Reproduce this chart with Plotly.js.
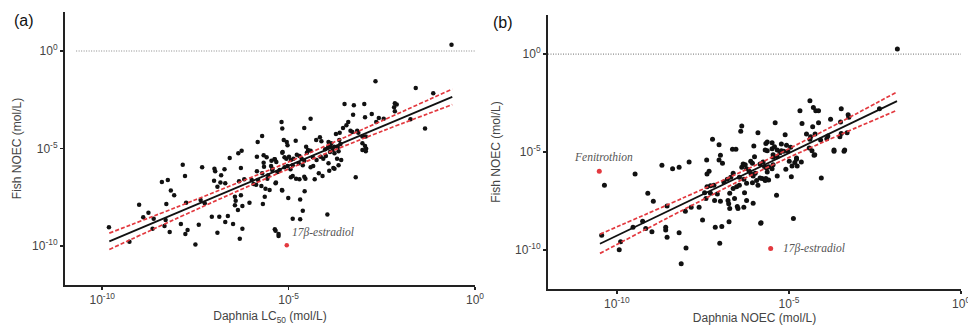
<!DOCTYPE html>
<html><head><meta charset="utf-8">
<script src="https://cdn.plot.ly/plotly-3.0.1.min.js"></script>
<style>body{margin:0;background:#fff}#c{width:968px;height:325px}</style>
</head><body><div id="c"></div>
<script>
// Values are log10 (mol/L)
const aLogX=[-9.82,-9.27,-9.01,-8.90,-8.76,-8.62,-8.65,-8.40,-8.24,-8.16,
-8.07,-8.28,-8.30,-8.33,-8.19,-7.84,-7.78,-7.75,-7.89,-7.71,
-7.77,-7.50,-7.32,-7.36,-7.25,-7.41,-6.99,-6.97,-7.00,-6.91,
-6.81,-6.83,-6.70,-6.72,-7.06,-6.86,-6.70,-6.58,-6.63,-6.91,
-6.49,-6.44,-6.42,-6.44,-6.36,-6.28,-6.24,-6.28,-6.26,-6.35,
-6.33,-6.19,-6.24,-6.31,-6.05,-5.99,-5.94,-5.83,-5.71,-5.85,
-5.67,-5.59,-5.67,-5.66,-5.85,-5.71,-5.82,-5.87,-5.73,-5.62,
-5.51,-5.64,-5.69,-5.46,-5.37,-5.44,-5.30,-5.34,-5.16,-5.18,
-5.37,-5.27,-5.55,-5.57,-2.67,-1.59,-1.12,-3.50,-3.25,-2.97,
-2.15,-2.10,-2.17,-2.15,-3.27,-2.77,-2.95,-4.41,-2.58,-2.45,
-2.65,-1.73,-3.40,-3.45,-3.54,-3.63,-3.73,-5.19,-5.17,-4.58,
-3.34,-3.29,-3.16,-3.13,-1.34,-3.02,-2.93,-3.02,-2.95,-2.92,
-3.02,-2.93,-5.13,-5.05,-5.03,-4.81,-4.26,-4.16,-4.12,-3.93,
-3.86,-3.89,-3.78,-3.64,-3.61,-3.68,-3.66,-4.53,-4.48,-4.51,
-4.41,-4.02,-3.94,-3.89,-3.82,-3.77,-5.17,-5.11,-5.06,-4.99,
-4.94,-4.87,-5.38,-5.33,-4.78,-4.71,-4.65,-4.58,-4.73,-4.62,
-4.35,-4.25,-4.14,-4.07,-4.00,-3.93,-3.80,-3.70,-3.59,-3.66,
-4.41,-4.34,-5.24,-5.11,-5.03,-4.95,-4.89,-4.94,-4.89,-4.80,
-4.71,-4.58,-4.55,-4.30,-4.19,-4.09,-3.91,-3.77,-3.20,-5.47,
-5.43,-5.35,-5.17,-5.01,-4.69,-4.57,-4.62,-3.96,-4.89,-4.69,
-5.35,-5.27,-0.63];
const aLogY=[-9.04,-9.78,-7.88,-8.53,-8.29,-8.60,-9.11,-6.72,-6.62,-7.16,
-7.40,-7.85,-8.67,-8.97,-9.28,-5.83,-6.41,-7.78,-8.87,-9.18,
-9.38,-9.93,-5.96,-7.64,-7.81,-8.91,-6.04,-6.17,-6.65,-6.96,
-6.37,-6.75,-6.78,-6.07,-8.50,-8.50,-8.77,-5.49,-8.46,-9.32,
-8.87,-7.47,-7.68,-7.91,-8.15,-7.40,-7.95,-6.00,-5.11,-5.25,
-6.68,-6.58,-9.11,-9.63,-7.78,-6.62,-6.82,-4.67,-4.36,-5.42,
-5.35,-5.45,-5.73,-5.93,-6.17,-6.27,-6.62,-6.86,-6.92,-7.06,
-7.13,-7.47,-7.85,-5.63,-5.55,-6.10,-6.21,-6.75,-5.18,-7.13,
-9.14,-9.49,-6.37,-6.55,-1.55,-1.90,-2.17,-2.72,-2.78,-2.72,
-2.68,-2.75,-2.89,-3.09,-3.27,-3.23,-3.40,-3.47,-3.44,-3.47,
-3.64,-3.50,-3.64,-3.81,-3.95,-4.19,-4.26,-3.64,-3.98,-3.95,
-4.09,-4.15,-4.09,-4.19,-3.98,-4.39,-4.39,-4.73,-4.87,-5.01,
-5.08,-5.14,-4.56,-4.67,-4.84,-4.60,-4.56,-4.43,-4.63,-4.67,
-4.73,-4.87,-4.91,-4.56,-4.77,-4.94,-5.14,-4.91,-5.08,-5.22,
-5.11,-5.04,-4.94,-5.18,-5.08,-5.25,-5.22,-5.45,-5.52,-5.42,
-5.59,-5.52,-5.55,-5.69,-5.32,-5.38,-5.52,-5.63,-5.76,-5.86,
-5.45,-5.59,-5.42,-5.52,-5.38,-5.76,-6.00,-5.52,-5.59,-5.86,
-5.96,-5.90,-6.10,-5.96,-5.90,-6.07,-5.86,-6.48,-6.41,-6.55,
-6.58,-6.45,-6.55,-6.58,-6.27,-6.41,-6.14,-6.04,-6.48,-5.90,
-6.04,-6.78,-7.16,-7.54,-7.61,-7.19,-8.19,-8.39,-8.60,-8.63,
-9.22,-9.38,0.32];
const aRedX=[-5.05], aRedY=[-9.96];
const aFitX=[-9.81,-0.61], aFitY=[-9.76,-2.35];
const aCIX=[-9.81,-7.5,-5.2,-3.0,-0.61];
const aCIUp=[-9.34,-7.63,-5.85,-4.01,-1.95];
const aCILo=[-10.18,-8.15,-6.21,-4.49,-2.75];
const aRefX=[-10.7,0], aRefY=[0,0];

const bLogX=[-10.36,-10.44,-9.93,-9.89,-9.47,-9.53,-9.25,-9.16,-9.10,-8.94,
-8.98,-8.69,-8.54,-8.58,-8.58,-8.54,-8.38,-8.19,-8.19,-8.01,
-7.99,-8.13,-7.90,-7.84,-7.61,-7.51,-7.41,-7.39,-7.38,-7.32,
-7.38,-7.28,-7.18,-7.45,-7.28,-7.22,-7.03,-7.03,-6.93,-6.99,
-7.16,-7.08,-6.99,-6.77,-7.14,-6.95,-7.01,-6.89,-6.79,-6.69,
-6.72,-6.75,-6.72,-6.74,-6.64,-6.54,-6.62,-6.62,-6.52,-6.44,
-6.58,-6.50,-6.48,-6.40,-6.37,-6.37,-6.33,-6.27,-6.23,-6.44,
-6.31,-6.23,-6.29,-6.31,-6.23,-6.04,-6.15,-6.10,-6.04,-5.98,
-6.11,-6.06,-6.00,-6.02,-5.90,-6.06,-5.94,-5.90,-5.82,-5.84,
-5.75,-5.71,-5.65,-5.59,-5.78,-5.67,-5.59,-5.67,-5.63,-4.39,
-4.29,-4.22,-4.14,-4.68,-3.48,-3.79,-3.28,-3.26,-5.40,-4.62,
-4.14,-4.31,-3.50,-2.37,-5.11,-4.49,-4.37,-4.39,-4.24,-4.08,
-3.87,-3.90,-3.52,-3.48,-3.31,-3.69,-3.38,-5.63,-5.49,-5.69,
-5.49,-5.42,-5.34,-5.22,-5.07,-4.95,-4.41,-4.33,-4.27,-5.46,
-5.34,-5.26,-5.03,-4.78,-4.06,-5.36,-5.81,-4.87,-5.34,-4.93,
-5.84,-5.69,-5.63,-5.49,-5.46,-5.09,-4.91,-4.83,-4.76,-4.64,
-4.78,-4.99,-4.25,-3.69,-3.40,-5.46,-5.22,-5.15,-1.85];
const bLogY=[-6.70,-9.25,-10.00,-9.59,-6.12,-8.84,-8.54,-8.91,-7.11,-7.52,
-9.08,-5.68,-7.76,-8.84,-8.98,-9.35,-5.85,-5.78,-9.12,-8.03,
-9.90,-10.71,-5.51,-7.82,-7.82,-8.47,-7.38,-5.41,-6.12,-5.98,
-6.77,-6.73,-6.70,-7.08,-7.11,-4.35,-4.63,-5.41,-5.58,-5.17,
-7.48,-7.14,-7.52,-7.48,-8.84,-8.81,-9.66,-6.53,-6.39,-6.29,
-7.11,-7.65,-7.89,-8.57,-4.86,-4.86,-6.09,-6.87,-6.77,-6.70,
-7.38,-7.79,-7.89,-3.94,-3.67,-5.78,-5.61,-5.65,-5.85,-6.29,
-6.39,-6.60,-7.08,-7.82,-7.48,-7.62,-5.98,-6.12,-6.22,-6.09,
-5.47,-5.58,-5.24,-4.69,-4.02,-6.57,-6.46,-6.70,-8.64,-5.61,
-5.51,-5.75,-5.82,-5.75,-6.36,-6.36,-6.43,-4.56,-4.93,-2.38,
-2.72,-2.89,-2.89,-2.89,-2.79,-3.33,-3.10,-3.23,-3.51,-3.54,
-3.51,-3.71,-3.47,-2.79,-4.12,-4.08,-4.22,-4.35,-4.08,-4.39,
-4.18,-4.32,-4.22,-4.05,-4.02,-4.90,-4.90,-4.49,-4.53,-4.90,
-4.83,-4.73,-4.90,-4.59,-4.66,-4.76,-4.80,-4.93,-5.17,-5.14,
-5.24,-5.04,-4.96,-5.31,-6.33,-7.21,-8.61,-8.40,-6.22,-6.26,
-6.33,-6.46,-6.02,-5.85,-5.65,-5.88,-5.71,-5.54,-5.71,-5.51,
-5.37,-5.47,-5.14,-4.96,-4.96,-5.27,-4.93,-4.96,0.27];
const bRedX=[-10.51,-5.53], bRedY=[-5.98,-9.93];
const bFitX=[-10.49,-1.86], bFitY=[-9.69,-2.40];
const bCIX=[-10.49,-8.0,-6.0,-4.0,-1.86];
const bCIUp=[-9.20,-7.29,-5.70,-3.93,-1.93];
const bCILo=[-10.18,-7.89,-6.10,-4.49,-2.87];
const bRefX=[-12,0], bRefY=[0,0];

const tickVals=[1e-10,1e-5,1];
const tickText=['10<sup>-10</sup>','10<sup>-5</sup>','10<sup>0</sup>'];

const P=a=>a.map(v=>Math.pow(10,v));
const RED='#e3393f';
function panel(xa,ya,lx,ly,rx,ry,fx,fy,cx,cu,cl,refx,refy,ms){
  return [
    {x:P(refx),y:P(refy),xaxis:xa,yaxis:ya,type:'scatter',mode:'lines',line:{color:'#8a8a8a',width:1.2,dash:'1px,1.5px'}},
    {x:P(lx),y:P(ly),xaxis:xa,yaxis:ya,type:'scatter',mode:'markers',marker:{color:'#111',size:ms},hoverinfo:'skip'},
    {x:P(rx),y:P(ry),xaxis:xa,yaxis:ya,type:'scatter',mode:'markers',marker:{color:RED,size:ms},hoverinfo:'skip'},
    {x:P(cx),y:P(cu),xaxis:xa,yaxis:ya,type:'scatter',mode:'lines',line:{color:RED,width:1.7,dash:'4px,2px',shape:'spline'}},
    {x:P(cx),y:P(cl),xaxis:xa,yaxis:ya,type:'scatter',mode:'lines',line:{color:RED,width:1.7,dash:'4px,2px',shape:'spline'}},
    {x:P(fx),y:P(fy),xaxis:xa,yaxis:ya,type:'scatter',mode:'lines',line:{color:'#111',width:1.8}}
  ];
}
const data=[].concat(
  panel('x','y',aLogX,aLogY,aRedX,aRedY,aFitX,aFitY,aCIX,aCIUp,aCILo,aRefX,aRefY,4.5),
  panel('x2','y2',bLogX,bLogY,bRedX,bRedY,bFitX,bFitY,bCIX,bCIUp,bCILo,bRefX,bRefY,5)
);
const tf={family:'Liberation Sans, Arial, sans-serif',size:12,color:'#444'};
const ttf={family:'Liberation Sans, Arial, sans-serif',size:12,color:'#444'};
function xax(dom,rng,title,anchor){return {domain:dom,type:'log',range:rng,anchor:anchor,showgrid:false,zeroline:false,showline:true,linecolor:'#222',linewidth:2,ticks:'outside',ticklen:3,tickwidth:1.5,tickcolor:'#222',tickvals:tickVals,ticktext:tickText,tickfont:tf,ticklabeloverflow:'allow',title:{text:title,font:ttf,standoff:6}};}
function yax(dom,rng,title,anchor,so){return {domain:dom,type:'log',range:rng,anchor:anchor,showgrid:false,zeroline:false,showline:true,linecolor:'#222',linewidth:2,ticks:'outside',ticklen:3,tickwidth:1.5,tickcolor:'#222',tickvals:tickVals,ticktext:tickText,tickfont:tf,title:{text:title,font:ttf,standoff:so}};}
const serif={family:'Liberation Serif, DejaVu Serif, serif',size:11.5,color:'#555'};
const layout={
  width:968,height:325,margin:{l:0,r:0,t:0,b:0},paper_bgcolor:'#fff',plot_bgcolor:'#fff',showlegend:false,
  xaxis:xax([0.0671,0.4907],[-11,0],'Daphnia LC<sub>50</sub> (mol/L)','y'),
  yaxis:yax([0.1231,0.9631],[-12,2],'Fish NOEC (mol/L)','x',8),
  xaxis2:xax([0.5661,0.9928],[-12,0],'Daphnia NOEC (mol/L)','y2'),
  yaxis2:yax([0.1108,0.9538],[-12,2],'Fish NOEC (mol/L)','x2',12),
  annotations:[
    {text:'(a)',xref:'paper',yref:'paper',x:24/968,y:1-20/325,xanchor:'center',yanchor:'middle',showarrow:false,font:{family:'Liberation Sans, Arial',size:16,color:'#111'}},
    {text:'(b)',xref:'paper',yref:'paper',x:503/968,y:1-22/325,xanchor:'center',yanchor:'middle',showarrow:false,font:{family:'Liberation Sans, Arial',size:16,color:'#111'}},
    {text:'<i>17β-estradiol</i>',xref:'x',yref:'y',x:-4.95,y:-9.33,xanchor:'left',showarrow:false,font:serif},
    {text:'<i>17β-estradiol</i>',xref:'x2',yref:'y2',x:-5.23,y:-9.95,xanchor:'left',showarrow:false,font:serif},
    {text:'<i>Fenitrothion</i>',xref:'x2',yref:'y2',x:-11.3,y:-5.26,xanchor:'left',showarrow:false,font:serif}
  ]
};
Plotly.newPlot('c',data,layout,{staticPlot:true});
</script></body></html>
